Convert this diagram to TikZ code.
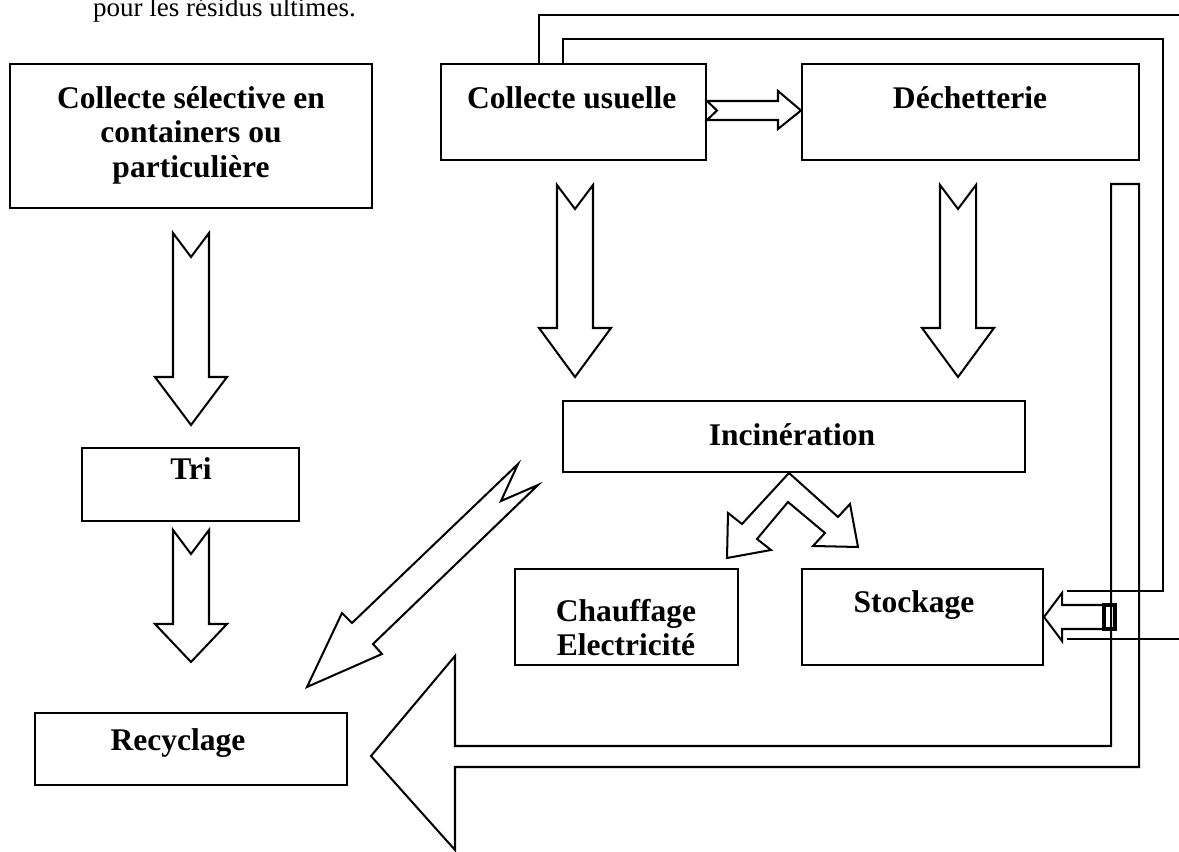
\documentclass[tikz,border=0pt]{standalone}
\usepackage{fontspec}
\setmainfont{Liberation Serif}
\usetikzlibrary{fit}
\begin{document}
\begin{tikzpicture}[x=0.444pt,y=-0.444pt,line width=0.9pt,line join=miter,
	box/.style={draw,inner sep=0pt},
	lbl/.style={anchor=base,inner sep=0pt,font=\fontsize{14}{15}\selectfont\bfseries},
	blk/.style={draw}]
	\useasboundingbox (0,0) rectangle (1179,852);
	\node[anchor=base west,inner sep=0pt,font=\fontsize{12}{15}\selectfont] (note) at (92,17) {pour les résidus ultimes.};
	% boites
	\node[box,fit={(10,64)(372,208)}] (selec) {};
	\node[box,fit={(441,64)(706,160)}] (usuel) {};
	\node[box,fit={(802,64)(1139,160)}] (dech) {};
	\node[box,fit={(82,448)(299,521)}] (tri) {};
	\node[box,fit={(563,401)(1025,472)}] (incin) {};
	\node[box,fit={(515,569)(738,665)}] (chauf) {};
	\node[box,fit={(802,569)(1043,665)}] (stock) {};
	\node[box,fit={(35,713)(347,785)}] (recyc) {};
	\foreach \t/\y in {Collecte sélective en/109,containers ou/143,particulière/178}
		\node[lbl] (tsel\y) at (191,\y) {\t};
	\node[lbl,anchor=base west] (tusuel) at (466,109) {Collecte usuelle};
	\node[lbl] (tdech) at (970,109) {Déchetterie};
	\node[lbl] (ttri) at (191,480) {Tri};
	\node[lbl] (tincin) at (792,446) {Incinération};
	\node[lbl] (tchauf) at (626,622) {Chauffage};
	\node[lbl] (telec) at (626,656) {Electricité};
	\node[lbl] (tstock) at (914,613) {Stockage};
	\node[lbl] (trecyc) at (178,751) {Recyclage};
	% fleches vers le bas
	\foreach \c/\h/\b/\p in {191/233/377/425,191/530/624/662,575/185/328/377,958/185/328/377}
		\draw[blk] (\c-18,\h)--(\c,\h+24)--(\c+18,\h)--(\c+18,\b)--(\c+36,\b)--(\c,\p)--(\c-36,\b)--(\c-18,\b)--cycle;
	% usuelle -> dechetterie
	\draw[blk] (usuel.east |- 0,101)--(778,101)--(778,91)--(dech.west |- 0,110.5)--(778,129)--(778,120)--(usuel.east |- 0,120)--(717,110.5)--cycle;
	% incineration -> recyclage
	\draw[blk] (518,464)--(352,623)--(342,613)--(307,687)--(382,654)--(373,644)--(538,485)--(501,501)--cycle;
	% double fleche sous incineration
	\draw[blk] (789,473)--(742,524)--(728,513)--(727,558)--(771,550)--(757,539)--(788,502)--(825,533)--(813,546)--(858,547)--(850,504)--(838,517)--cycle;
	% grande fleche vers recyclage
	\draw[blk] (1111,184)--(1139,184)--(1139,767)--(455,767)--(455,850)--(371,756)--(455,656)--(455,746)--(1111,746)--cycle;
	% fleche vers stockage
	\draw[blk] (1104,605)--(1062,605)--(1062,593)--(stock.east |- 0,617)--(1062,641)--(1062,629)--(1104,629)--cycle;
	\draw[line width=1.4pt] (1104,605) rectangle (1115,629);
	% liaisons
	\coordinate (bordA) at (1179,15);
	\coordinate (bordB) at (1179,639);
	\draw (usuel.north -| 539,0) |- (bordA);
	\draw (bordB) -- (1067,639);
	\draw (usuel.north -| 563,0) |- (1163,39) |- (1067,591);
\end{tikzpicture}
\end{document}
